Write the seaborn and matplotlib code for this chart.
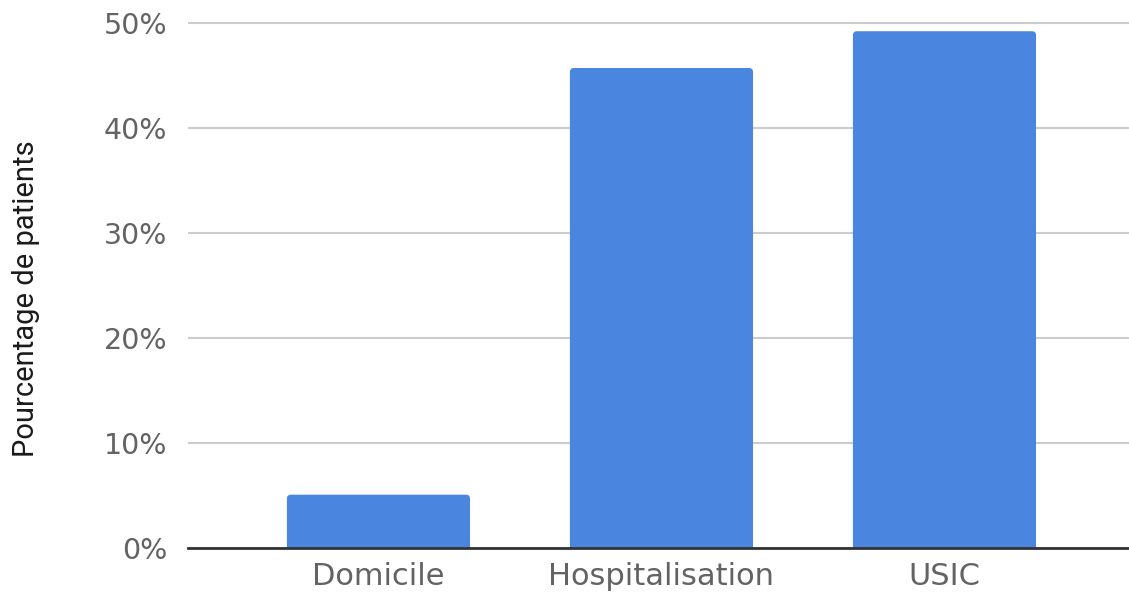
import matplotlib
matplotlib.use("Agg")
import matplotlib.pyplot as plt
import seaborn as sns
import pandas as pd
from matplotlib.ticker import FuncFormatter
from matplotlib.patches import FancyBboxPatch

categories = ["Domicile", "Hospitalisation", "USIC"]
values = [5.1, 45.7, 49.2]
yticks = [0, 10, 20, 30, 40, 50]

df = pd.DataFrame({"cat": categories, "val": values})

sns.set_theme(style="white")
plt.rcParams["font.family"] = ["DejaVu Sans"]

fig = plt.figure(figsize=(11.29, 5.92), dpi=100)
ax = fig.add_axes([188 / 1129, 43.7 / 592, 1 - 188 / 1129, 527.6 / 592])

sns.barplot(data=df, x="cat", y="val", color="#4a86e0", saturation=1,
            width=0.647, ax=ax, zorder=3, linewidth=0)

ax.set_ylim(0, 50.2)
ax.set_xlim(-0.673, 2.652)

# round the top corners of the bars (using the bars seaborn drew)
bars = list(ax.patches)
for b in bars:
    x0, w, h = b.get_x(), b.get_width(), b.get_height()
    rx = 0.014
    ry = 0.38
    fb = FancyBboxPatch((x0, -2), w, h + 2,
                        boxstyle=f"round,pad=0,rounding_size={rx}",
                        mutation_aspect=ry / rx,
                        facecolor=b.get_facecolor(), edgecolor="none",
                        zorder=3)
    ax.add_patch(fb)
    b.remove()

ax.set_yticks(yticks)
ax.yaxis.set_major_formatter(FuncFormatter(lambda v, p: f"{int(v)}%"))
ax.grid(axis="y", color="#cccccc", linewidth=1.5, zorder=0)
ax.grid(axis="x", visible=False)
ax.set_axisbelow(True)

for s in ["top", "right", "left"]:
    ax.spines[s].set_visible(False)
ax.spines["bottom"].set_color("#333333")
ax.spines["bottom"].set_linewidth(2)
ax.spines["bottom"].set_zorder(4)

ax.tick_params(axis="y", length=0, pad=15, labelsize=20.5, labelcolor="#636363")
ax.tick_params(axis="x", length=0, pad=10, labelsize=22, labelcolor="#636363")
ax.set_xlabel("")
ax.set_ylabel("Pourcentage de patients", fontsize=21, color="#1a1a1a",
              family=["Roboto", "DejaVu Sans"], va="center")
ax.yaxis.set_label_coords(-0.172, 0.474)

fig.savefig("out.png", dpi=100, facecolor="white")
